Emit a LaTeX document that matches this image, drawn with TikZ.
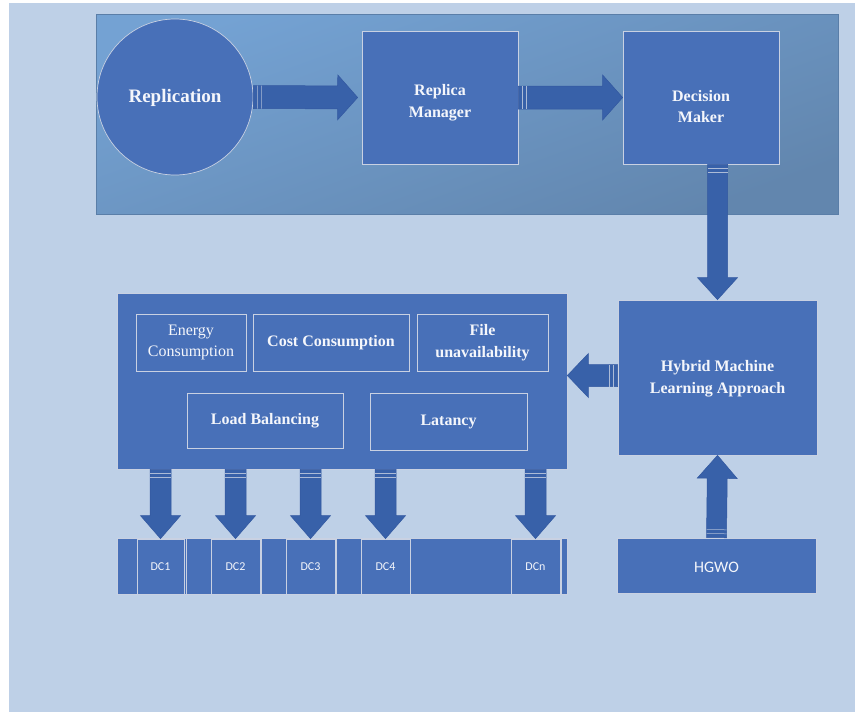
\documentclass[tikz,border=0pt]{standalone}
\usepackage{fontspec}
\setmainfont{Liberation Serif}
\newfontfamily\calibrifont{Carlito}
\usetikzlibrary{calc}
\definecolor{bgblue}{HTML}{BED0E7}
\definecolor{boxfill}{HTML}{4870B8}
\definecolor{boxline}{HTML}{C9D1E2}
\definecolor{arrowfill}{HTML}{3861A9}
\definecolor{arrowline}{HTML}{3358A0}
\definecolor{paneltop}{HTML}{74A2D3}
\definecolor{panelbot}{HTML}{6286AE}
\definecolor{panelline}{HTML}{5A7EA8}
\definecolor{txt}{HTML}{F4F6FB}
\tikzset{
  box/.style={draw=boxline, fill=boxfill, line width=0.7pt, inner sep=0pt},
  inbox/.style={draw=boxline, line width=0.7pt, inner sep=0pt, text=txt, align=center},
  lbl/.style={text=txt, align=center, font=\bfseries\fontsize{16}{21.5}\selectfont},
  lblr/.style={text=txt, align=center, font=\fontsize{16}{21}\selectfont},
  sans/.style={text=txt, font=\calibrifont\fontsize{12}{14}\selectfont},
  arrowbody/.style={fill=arrowfill, draw=arrowline, line width=0.5pt},
  stripeline/.style={draw=boxline!80!arrowfill, line width=0.5pt},
}
\newcommand{\blockarrow}[5]{%
  \path (#1) coordinate (ba-s) (#2) coordinate (ba-e);
  \path ($(ba-e)!#5!(ba-s)$) coordinate (ba-h);
  \filldraw[arrowbody] ($(ba-s)!#3!90:(ba-e)$) -- ($(ba-h)!#3!90:(ba-e)$) -- ($(ba-h)!#4!90:(ba-e)$) -- (ba-e) -- ($(ba-h)!#4!-90:(ba-e)$) -- ($(ba-h)!#3!-90:(ba-e)$) -- ($(ba-s)!#3!-90:(ba-e)$) -- cycle;
  \path ($(ba-s)!4pt!(ba-e)$) coordinate (ba-a) ($(ba-s)!8pt!(ba-e)$) coordinate (ba-b);
  \draw[stripeline] ($(ba-a)!#3!90:(ba-e)$) -- ($(ba-a)!#3!-90:(ba-e)$);
  \draw[stripeline] ($(ba-b)!#3!90:(ba-e)$) -- ($(ba-b)!#3!-90:(ba-e)$);
}
\begin{document}
\begin{tikzpicture}[x=1pt, y=-1pt]
\useasboundingbox (0,0) rectangle (856,712);
\fill[bgblue] (9,3) rectangle (855,712);

% top panel
\node[draw=panelline, line width=0.8pt, top color=paneltop, bottom color=panelbot, shading angle=20,
      minimum width=742pt, minimum height=200pt, inner sep=0pt] (top) at (467,114) {};

% top row nodes
\node[box, circle, minimum size=156pt] (rep) at (175,97) {};
\node[lbl, font=\bfseries\fontsize{19}{22}\selectfont] (replbl) at ([yshift=-1pt]rep.center) {Replication};
\node[box, minimum width=156pt, minimum height=133pt] (rm) at (440,97.5) {};
\node[lbl] (rmlbl) at ([yshift=-5pt]rm.center) {Replica\\Manager};
\node[box, minimum width=156pt, minimum height=133pt] (dm) at (701,97.5) {};
\node[lbl] (dmlbl) at ([yshift=-9pt]dm.center) {Decision\\Maker};

% right column
\node[box, minimum width=199pt, minimum height=155pt] (hml) at (717.5,377.5) {};
\node[lbl] (hmllbl) at ([yshift=-1pt]hml.center) {Hybrid Machine\\Learning Approach};
\node[box, minimum width=199pt, minimum height=55pt] (hgwo) at (716.5,565.5) {};
\node[sans, font=\calibrifont\fontsize{16}{18}\selectfont] (hgwolbl) at ([yshift=-2pt]hgwo.center) {HGWO};

% big box
\node[box, minimum width=450pt, minimum height=176pt] (big) at (342,381) {};
\node[inbox, lblr, minimum width=110pt, minimum height=57pt] (energy) at (191,342.5) {Energy\\Consumption};
\node[inbox, lbl, minimum width=156pt, minimum height=57pt] (cost) at (331,342.5) {Cost Consumption};
\node[inbox, lbl, minimum width=131pt, minimum height=57pt] (file) at (482.5,342.5) {File\\unavailability};
\node[inbox, lbl, minimum width=156pt, minimum height=55pt] (load) at (265,420.5) {Load Balancing};
\node[inbox, lbl, minimum width=157pt, minimum height=57pt] (lat) at (448.5,421.5) {Latancy};

% DC strip
\node[box, minimum width=450pt, minimum height=56pt] (strip) at (342,566) {};
\foreach \xx in {186,261,336,561} \draw[boxline, line width=0.6pt] (\xx,538) -- (\xx,594);
\node[box, sans, minimum width=47pt, minimum height=55pt] (dc1) at (160.5,566.5) {DC1};
\node[box, sans, minimum width=49pt, minimum height=55pt] (dc2) at (235.5,566.5) {DC2};
\node[box, sans, minimum width=49pt, minimum height=55pt] (dc3) at (310.5,566.5) {DC3};
\node[box, sans, minimum width=49pt, minimum height=55pt] (dc4) at (385.5,566.5) {DC4};
\node[box, sans, minimum width=49pt, minimum height=55pt] (dcn) at (535.5,566.5) {DCn};

% arrows
\coordinate (a1e) at ($(rm.west)+(-4pt,0)$);
\blockarrow{rep.east}{a1e}{11.5pt}{22.5pt}{20pt}
\blockarrow{rm.east}{dm.west}{11.5pt}{22.5pt}{20pt}
\blockarrow{hml.north |- dm.south}{hml.north}{10pt}{20pt}{22pt}
\blockarrow{hgwo.north}{hml.south}{10pt}{20pt}{23pt}
\coordinate (a5s) at ($(hml.west)+(0,2pt)$);
\coordinate (a5e) at (big.east |- a5s);
\blockarrow{a5s}{a5e}{11pt}{22pt}{21pt}
\foreach \d in {dc1,dc2,dc3,dc4,dcn}{
  \blockarrow{\d.north |- big.south}{\d.north}{10.5pt}{20pt}{23pt}
}
\end{tikzpicture}
\end{document}
